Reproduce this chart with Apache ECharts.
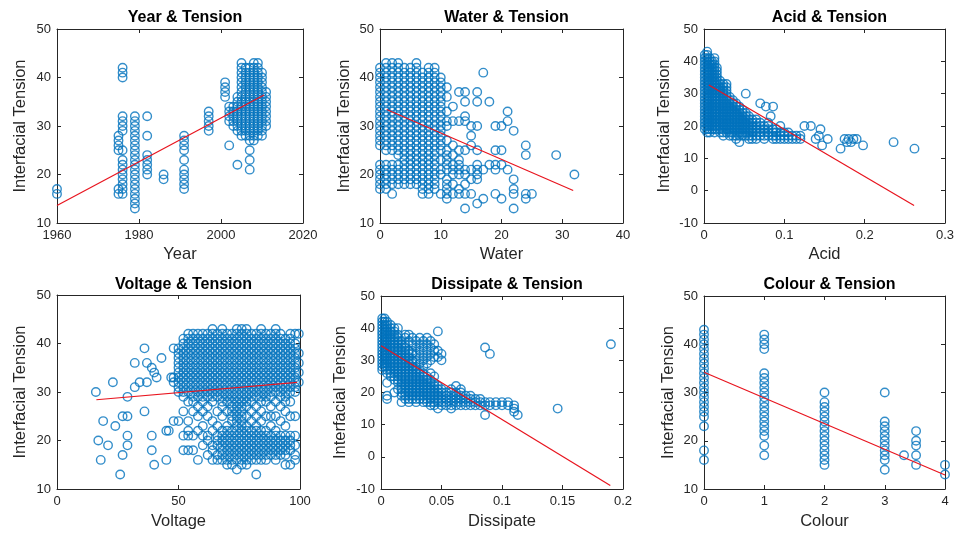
<!DOCTYPE html>
<html><head><meta charset="utf-8">
<script src="https://cdn.jsdelivr.net/npm/echarts@6/dist/echarts.min.js"></script>
<style>html,body{margin:0;padding:0;background:#fff}#c{width:958px;height:534px}</style>
</head><body><div id="c"></div>
<script>
// ---------------- DATA ----------------
// Each column: [x value, [tension values]]
const yearCols = [
  [1960, [16,17]],
  [1975, [16,17,25,26,27,28]],
  [1976, [16,17,18,19,20,21,22,23,25,29,30,31,32,40,41,42]],
  [1979, [13,14,15,16,17,18,19,20,21,22,23,24,25,26,27,28,29,30,31,32]],
  [1982, [20,21,22,23,24,28,32]],
  [1986, [19,20]],
  [1991, [17,18,19,20,21,23,25,26,27,28]],
  [1997, [29,30,31,32,33]],
  [2001, [36,37,38,39]],
  [2002, [26,31,32,33,34]],
  [2003, [30,31,32,33,34]],
  [2004, [22,29,30,31,32,33,34,35,36]],
  [2005, [28,29,30,31,32,33,34,35,36,37,38,39,40,41,42,43]],
  [2006, [28,29,30,31,32,33,34,35,36,37,38,39,40,41,42]],
  [2007, [21,23,25,27,28,29,30,31,32,33,34,35,36,37,38,39,40,41,42]],
  [2008, [27,28,29,30,31,32,33,34,35,36,37,38,39,40,41,42,43]],
  [2009, [28,29,30,31,32,33,34,35,36,37,38,39,40,41,42,43]],
  [2010, [28,29,30,31,32,33,34,35,36,37,38,39,40,41]],
  [2011, [30,31,32,33,34,35,36,37]]
];
const yearFitX = [1960, 2010.5];
const yearFitY = [13.6, 36.4];

const waterCols = [
  [0, [17,18,19,20,21,22,26,27,28,29,30,31,32,33,34,35,36,37,38,39,40,41,42]],
  [1, [17,18,19,20,21,22,25,26,27,28,29,30,31,32,33,34,35,36,37,38,39,40,41,42,43]],
  [2, [16,18,19,20,21,22,25,26,27,28,29,30,31,32,33,34,35,36,37,38,39,40,41,42,43]],
  [3, [18,19,20,21,22,24,25,26,27,28,29,30,31,32,33,34,35,36,37,38,39,40,41,42,43]],
  [4, [18,19,20,21,22,23,24,25,26,27,28,29,30,31,32,33,34,35,36,37,38,39,40,41,42]],
  [5, [18,19,20,21,22,23,24,25,26,27,28,29,30,31,32,33,34,35,36,37,38,39,40,41,42]],
  [6, [18,19,20,21,22,23,24,25,26,27,28,29,30,31,32,33,34,35,36,37,38,39,40,41,42,43]],
  [7, [16,17,18,19,20,21,22,23,24,25,26,27,28,29,30,31,32,33,34,35,36,37,38,39,40,41]],
  [8, [16,17,18,19,20,21,22,23,24,25,26,27,28,29,30,31,32,33,34,35,36,37,38,39,40,41,42]],
  [9, [17,18,19,20,21,22,23,24,25,26,27,28,29,30,31,32,33,34,35,36,37,38,39,40,41,42]],
  [10, [16,20,21,23,25,26,27,28,29,30,31,32,33,34,35,36,37,38,39,40]],
  [11, [15,16,17,18,19,21,22,23,24,25,27,30,31,33,36,38]],
  [12, [16,18,20,21,22,24,26,31,34]],
  [13, [16,17,20,21,22,23,25,31,37]],
  [14, [13,16,18,20,21,25,31,32,35,37]],
  [15, [16,19,21,26,28,30]],
  [16, [14,19,20,21,22,25,30,35,37]],
  [17, [15,21,41]],
  [18, [22,35]],
  [19, [16,21,22,25,30]],
  [20, [15,22,25,30]],
  [21, [21,31,33]],
  [22, [13,16,17,19,29]],
  [24, [15,16,24,26]],
  [25, [16]],
  [29, [24]],
  [32, [20]]
];
const waterFitX = [1.1, 31.8];
const waterFitY = [33.4, 16.7];

const acidCols = [
  [0.001, [19,20,21,22,23,24,25,26,27,28,29,30,31,32,33,34,35,36,37,38,39,40,41,42]],
  [0.004, [18,19,20,21,22,23,24,25,26,27,28,29,30,31,32,33,34,35,36,37,38,39,40,41,42,43]],
  [0.007, [18,19,20,21,22,23,24,25,26,27,28,29,30,31,32,33,34,35,36,37,38,39,40,41]],
  [0.010, [19,20,21,22,23,24,25,26,27,28,29,30,31,32,33,34,35,36,37,38,39,40]],
  [0.013, [18,19,20,21,22,23,24,25,26,27,28,29,30,31,32,33,34,35,36,37,38,39,40,41]],
  [0.016, [19,20,21,22,23,24,25,26,27,28,29,30,31,32,33,34,35,36,37,38]],
  [0.020, [18,19,20,21,22,23,24,25,26,27,28,29,30,31,32,33,34]],
  [0.024, [17,18,19,20,21,22,23,24,25,26,27,28,29,30,31,32,33]],
  [0.028, [18,19,20,21,22,23,24,25,26,27,28,29,30,31,32,33]],
  [0.032, [17,18,19,20,21,22,23,24,25,26,27,28,29]],
  [0.036, [17,18,19,20,21,22,23,24,25,26,27,28]],
  [0.040, [16,17,18,19,20,21,22,23,24,25,26,27]],
  [0.044, [15,17,18,19,20,21,22,23,24,25,26]],
  [0.048, [17,18,19,20,21,22,23,24,25]],
  [0.052, [17,18,19,20,21,22,23,24,30]],
  [0.056, [16,17,18,19,20,21,22,23]],
  [0.060, [16,17,18,19,20,21,22]],
  [0.065, [16,17,18,19,20,21,22]],
  [0.070, [17,18,19,20,21,27]],
  [0.075, [16,17,18,19,20]],
  [0.077, [26]],
  [0.080, [17,18,19,20,21]],
  [0.083, [23]],
  [0.086, [16,17,18,19,26]],
  [0.090, [16,17,18,19]],
  [0.095, [16,17,18,20]],
  [0.100, [16,17,18]],
  [0.105, [16,17,18]],
  [0.110, [16,17]],
  [0.115, [16,17]],
  [0.120, [16,17]],
  [0.125, [20]],
  [0.133, [20]],
  [0.139, [16]],
  [0.143, [17]],
  [0.145, [19]],
  [0.147, [14]],
  [0.154, [16]],
  [0.170, [13]],
  [0.175, [16]],
  [0.178, [15]],
  [0.180, [16]],
  [0.183, [15]],
  [0.186, [16]],
  [0.190, [16]],
  [0.198, [14]],
  [0.236, [15]],
  [0.262, [13]]
];
const acidFitX = [0.006, 0.2615];
const acidFitY = [32.7, -4.6];

const voltageCols = [
  [16, [30]], [17, [20]], [18, [16]], [19, [24]], [21, [19]], [23, [32]], [24, [23]],
  [26, [13]], [27, [17,25]], [29, [19,21,25,29]], [32, [31,36]], [34, [32]],
  [36, [26,39]], [37, [32,36]], [39, [18,21,35]], [40, [15,34]], [41, [33]],
  [43, [37]], [45, [16,22]], [46, [22]], [47, [33]],
  [48, [24,32,33,39]],
  [50, [24,30,31,32,33,34,35,36,37,38,39]],
  [52, [18,21,26,29,30,31,32,33,34,35,36,37,38,39,40,41]],
  [54, [18,21,22,24,28,30,31,32,33,34,35,36,37,38,39,40,41,42]],
  [56, [18,21,26,28,29,30,31,32,33,34,35,36,37,38,39,40,41,42]],
  [58, [16,22,25,27,29,30,31,32,33,34,35,36,37,38,39,40,41,42]],
  [60, [19,21,23,26,28,29,30,31,32,33,34,35,36,37,38,39,40,41,42]],
  [62, [17,20,21,25,27,29,30,31,32,33,34,35,36,37,38,39,40,41,42]],
  [64, [16,18,19,22,24,28,29,30,31,32,33,34,35,36,37,38,39,40,41,42,43]],
  [66, [16,17,19,20,21,23,26,29,30,31,32,33,34,35,36,37,38,39,40,41,42]],
  [68, [16,17,18,19,20,21,22,25,27,28,29,30,31,32,33,34,35,36,37,38,39,40,41,42,43]],
  [70, [15,16,17,18,19,20,21,22,23,26,28,29,30,31,32,33,34,35,36,37,38,39,40,41,42]],
  [72, [15,16,17,18,19,20,21,22,24,25,26,27,28,29,30,31,32,33,34,35,36,37,38,39,40,41,42]],
  [74, [14,16,17,18,19,20,21,22,23,24,25,26,27,28,29,30,31,32,33,34,35,36,37,38,39,40,41,42,43]],
  [76, [15,16,17,18,19,20,21,22,23,24,25,26,27,28,29,30,31,32,33,34,35,36,37,38,39,40,41,42,43]],
  [78, [15,16,17,18,19,20,21,22,23,25,27,28,29,30,31,32,33,34,35,36,37,38,39,40,41,42,43]],
  [80, [16,17,18,19,20,21,22,24,26,28,29,30,31,32,33,34,35,36,37,38,39,40,41,42]],
  [82, [13,16,17,18,19,20,21,22,23,25,27,29,30,31,32,33,34,35,36,37,38,39,40,41,42]],
  [84, [16,17,18,19,20,21,22,24,26,28,29,30,31,32,33,34,35,36,37,38,39,40,41,42,43]],
  [86, [16,17,18,19,20,21,22,25,28,29,30,31,32,33,34,35,36,37,38,39,40,41,42]],
  [88, [17,18,19,20,21,23,25,27,29,30,31,32,33,34,35,36,37,38,39,40,41,42]],
  [90, [16,17,18,19,20,21,22,25,28,30,31,32,33,34,35,36,37,38,39,40,41,42,43]],
  [92, [17,18,19,20,21,24,27,29,30,31,32,33,34,35,36,37,38,39,40,41,42]],
  [94, [15,17,18,19,20,21,23,26,28,29,30,31,32,33,34,35,36,37,38,39,40,41]],
  [96, [15,18,19,20,21,25,28,30,31,32,33,34,35,36,37,38,39,40,41,42]],
  [98, [16,17,19,21,25,30,31,32,33,34,35,36,37,38,39,40,42]],
  [99.5, [32,34,36,38,42]]
];
const voltageFitX = [16.2, 98.8];
const voltageFitY = [28.4, 32.0];

const dissipateCols = [
  [0.001, [27,28,29,30,31,32,33,34,35,36,37,38,39,40,41,42,43]],
  [0.003, [28,29,30,31,32,33,34,35,36,37,38,39,40,41,42,43]],
  [0.005, [18,19,23,26,27,28,29,30,31,32,33,34,35,36,37,38,39,40,41,42]],
  [0.008, [25,26,27,28,29,30,31,32,33,34,35,36,37,38,39,40,41]],
  [0.011, [20,24,25,26,27,28,29,30,31,32,33,34,35,36,37,38,39,40]],
  [0.014, [21,23,24,25,26,27,28,29,30,31,32,33,34,35,36,37,38,40]],
  [0.017, [17,19,20,21,22,23,24,25,26,27,28,29,30,31,32,33,34,35,36]],
  [0.020, [18,19,20,21,22,23,24,25,26,27,28,29,30,31,32,33,34,35,37,38]],
  [0.023, [17,18,19,20,21,22,23,24,25,26,27,28,29,30,31,32,33,36,38]],
  [0.026, [18,19,20,21,22,23,24,25,26,27,28,29,30,32,33,35,37]],
  [0.029, [17,18,19,20,21,22,23,24,25,26,27,28,30,32,34,36]],
  [0.032, [18,19,20,21,22,23,24,25,26,27,29,31,33,35,37]],
  [0.035, [17,18,19,20,21,22,23,24,25,26,28,30,32,34,36]],
  [0.038, [17,18,19,20,21,22,23,24,25,29,31,33,35,37]],
  [0.041, [16,17,18,19,20,21,22,23,24,26,30,32,34,36]],
  [0.044, [16,17,18,19,20,21,22,23,25,31,33,35]],
  [0.047, [15,17,18,19,20,21,22,31,33,39]],
  [0.050, [16,17,18,19,20,21,30,32]],
  [0.054, [16,17,18,19,20]],
  [0.058, [15,16,17,18,19,20,21]],
  [0.062, [16,17,18,19,20,22]],
  [0.066, [16,17,18,19,20,21]],
  [0.070, [16,17,18,19]],
  [0.074, [16,17,18,19]],
  [0.078, [16,17,18]],
  [0.082, [16,17,18]],
  [0.086, [13,16,17,34]],
  [0.090, [16,17,32]],
  [0.095, [16,17]],
  [0.100, [16,17]],
  [0.105, [16,17]],
  [0.110, [14,15,16]],
  [0.113, [13]],
  [0.146, [15]],
  [0.190, [35]]
];
const dissipateFitX = [0, 0.1895];
const dissipateFitY = [34.5, -8.9];

const colourCols = [
  [0, [16,18,23,25,26,27,28,29,30,31,32,33,34,35,36,37,38,39,40,41,42,43]],
  [1, [17,19,21,22,23,24,25,26,27,28,29,30,31,32,33,34,39,40,41,42]],
  [2, [15,16,17,18,19,20,21,22,23,24,25,26,27,28,30]],
  [3, [14,16,17,18,19,20,21,22,23,24,30]],
  [3.32, [17]],
  [3.52, [15,17,19,20,22]],
  [4, [13,15]]
];
const colourFitX = [0, 4];
const colourFitY = [34.2, 12.9];

const titles = ['Year & Tension','Water & Tension','Acid & Tension','Voltage & Tension','Dissipate & Tension','Colour & Tension'];
const xNames = ['Year','Water','Acid','Voltage','Dissipate','Colour'];
const yName = 'Interfacial Tension';
const xRanges = [[1960,2020,20],[0,40,10],[0,0.3,0.1],[0,100,50],[0,0.2,0.05],[0,4,1]];
const yRanges = [[10,50,10],[10,50,10],[-10,50,10],[10,50,10],[-10,50,10],[10,50,10]];

// ---------------- LAYOUT / BUILD ----------------
const allCols = [yearCols, waterCols, acidCols, voltageCols, dissipateCols, colourCols];
const fits = [[yearFitX,yearFitY],[waterFitX,waterFitY],[acidFitX,acidFitY],[voltageFitX,voltageFitY],[dissipateFitX,dissipateFitY],[colourFitX,colourFitY]];
const grids = [
  {left:57, top:29, width:246, height:194},
  {left:380, top:29, width:243, height:194},
  {left:704, top:29, width:241, height:194},
  {left:57, top:295, width:243, height:194},
  {left:381, top:296, width:242, height:193},
  {left:704, top:296, width:241, height:193}
];
const yNameGaps = [28.5, 27.5, 31.5, 28.5, 32.5, 27.5];
const xNameGaps = [23, 23, 23, 24, 24, 24];
const titleTops = [5, 5, 5, 272, 272, 272];
const axisColor = '#262626';
const fontFam = '"Liberation Sans", Arial, Helvetica, sans-serif';
const fmt = v => String(Math.round(v * 1e6) / 1e6);

const option = {
  backgroundColor: '#fff',
  animation: false,
  textStyle: {fontFamily: fontFam},
  title: [], grid: [], xAxis: [], yAxis: [], series: []
};

grids.forEach((g, i) => {
  option.grid.push(Object.assign({containLabel:false}, g));
  option.title.push({
    text: titles[i], left: g.left + g.width / 2, top: titleTops[i], textAlign: 'center',
    textStyle: {fontSize: 16, fontWeight: 'bold', color: '#000', fontFamily: fontFam}
  });
  const [xmin, xmax, xint] = xRanges[i];
  const [ymin, ymax, yint] = yRanges[i];
  const line = {show:true, onZero:false, lineStyle:{color:axisColor, width:1}};
  const tick = {show:true, inside:true, length:4, lineStyle:{color:axisColor, width:1}};
  option.xAxis.push({
    gridIndex:i, type:'value', min:xmin, max:xmax, interval:xint, position:'bottom',
    axisLine:line, axisTick:tick, splitLine:{show:false},
    axisLabel:{margin:6, fontSize:13, color:axisColor, formatter:fmt, fontFamily:fontFam},
    name:xNames[i], nameLocation:'middle', nameGap:xNameGaps[i],
    nameTextStyle:{fontSize:16.5, color:axisColor, fontFamily:fontFam}
  });
  option.xAxis.push({
    gridIndex:i, type:'value', min:xmin, max:xmax, interval:xint, position:'top',
    axisLine:line, axisTick:tick, splitLine:{show:false}, axisLabel:{show:false}
  });
  option.yAxis.push({
    gridIndex:i, type:'value', min:ymin, max:ymax, interval:yint, position:'left',
    axisLine:line, axisTick:tick, splitLine:{show:false},
    axisLabel:{margin:6, fontSize:13, color:axisColor, formatter:fmt, fontFamily:fontFam},
    name:yName, nameLocation:'middle', nameGap:yNameGaps[i],
    nameTextStyle:{fontSize:16.5, color:axisColor, fontFamily:fontFam}
  });
  option.yAxis.push({
    gridIndex:i, type:'value', min:ymin, max:ymax, interval:yint, position:'right',
    axisLine:line, axisTick:tick, splitLine:{show:false}, axisLabel:{show:false}
  });
  const pts = [];
  allCols[i].forEach(([x, ys]) => ys.forEach(y => pts.push([x, y])));
  option.series.push({
    type:'scatter', xAxisIndex:2*i, yAxisIndex:2*i, data:pts, symbol:'circle', symbolSize:8.5,
    clip:false, silent:true,
    itemStyle:{color:'rgba(0,0,0,0)', borderColor:'#0072BD', borderWidth:1.4}
  });
  const [fx, fy] = fits[i];
  option.series.push({
    type:'line', xAxisIndex:2*i, yAxisIndex:2*i, data:fx.map((x, k) => [x, fy[k]]),
    showSymbol:false, symbol:'none', silent:true, z:5,
    lineStyle:{color:'#e8141e', width:1.2}
  });
});

const chart = echarts.init(document.getElementById('c'), null, {renderer:'canvas'});
chart.setOption(option);
</script></body></html>
